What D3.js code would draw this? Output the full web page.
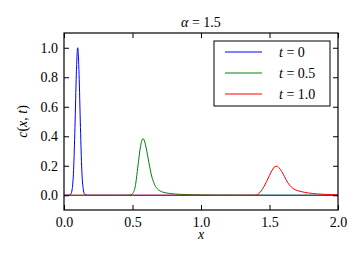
<!DOCTYPE html>
<html>
<head>
<meta charset="utf-8">
<script src="https://cdn.jsdelivr.net/npm/d3@7"></script>
<style>
  body { margin: 0; background: #fff; }
  .axis path { display: none; }
  .axis line { stroke: #000; stroke-width: 1; }
</style>
</head>
<body>
<svg width="364" height="256" style="font-family: 'Liberation Serif', serif; font-size: 14px;"></svg>
<script>
// series
const xBlue = [0, 0.03, 0.05, 0.06, 0.07, 0.08, 0.09, 0.1, 0.11, 0.12, 0.13, 0.14, 0.15, 0.17, 2.0];
const yBlue = [0, 0, 0.008, 0.044, 0.17, 0.46, 0.82, 1.0, 0.82, 0.46, 0.17, 0.044, 0.008, 0, 0];

const xGreen = [0, 0.45, 0.48, 0.5, 0.52, 0.54, 0.555, 0.57, 0.578, 0.59, 0.6, 0.62, 0.64, 0.66, 0.68, 0.7, 0.74, 0.78, 0.85, 0.95, 1.1, 1.4, 2.0];
const yGreen = [0, 0, 0.001, 0.01, 0.06, 0.2, 0.31, 0.375, 0.384, 0.36, 0.32, 0.22, 0.13, 0.075, 0.045, 0.03, 0.017, 0.011, 0.006, 0.003, 0.001, 0.0003, 0];

const xRed = [0, 1.35, 1.4, 1.42, 1.44, 1.46, 1.48, 1.5, 1.52, 1.54, 1.555, 1.57, 1.59, 1.61, 1.63, 1.65, 1.67, 1.7, 1.73, 1.78, 1.85, 1.92, 2.0];
const yRed = [0, 0, 0.001, 0.01, 0.03, 0.06, 0.095, 0.135, 0.17, 0.195, 0.197, 0.186, 0.16, 0.125, 0.09, 0.065, 0.047, 0.033, 0.025, 0.016, 0.009, 0.005, 0.003];

const xTicks = [0, 0.5, 1.0, 1.5, 2.0];
const yTicks = [0, 0.2, 0.4, 0.6, 0.8, 1.0];
const legendLabels = ["0", "0.5", "1.0"];
const colors = ["#0000ff", "#008000", "#ff0000"];

const svg = d3.select("svg");
const margin = { top: 33, right: 26, bottom: 46, left: 64 };
const width = +svg.attr("width");
const height = +svg.attr("height");
const innerWidth = width - margin.left - margin.right;
const innerHeight = height - margin.top - margin.bottom;

const xScale = d3.scaleLinear().domain([0, 2]).range([0, innerWidth]);
const yScale = d3.scaleLinear().domain([-0.1, 1.1]).range([innerHeight, 0]);

const g = svg.append("g").attr("transform", `translate(${margin.left}, ${margin.top})`);

const series = [
  { x: xBlue, y: yBlue },
  { x: xGreen, y: yGreen },
  { x: xRed, y: yRed }
];

const line = d3.line()
  .x((d) => xScale(d[0]))
  .y((d) => yScale(d[1]))
  .curve(d3.curveMonotoneX);

series.forEach((s, i) => {
  g.append("path")
    .datum(d3.zip(s.x, s.y))
    .attr("d", line)
    .attr("fill", "none")
    .attr("stroke", colors[i])
    .attr("stroke-width", 1);
});

// axes, ticks inward on all four sides
const fmt = d3.format(".1f");
const axes = [
  g.append("g").attr("class", "axis")
    .attr("transform", `translate(0, ${innerHeight})`)
    .call(d3.axisBottom(xScale).tickValues(xTicks).tickSizeInner(-5).tickSizeOuter(0).tickPadding(7).tickFormat(fmt)),
  g.append("g").attr("class", "axis")
    .call(d3.axisTop(xScale).tickValues(xTicks).tickSizeInner(-5).tickSizeOuter(0).tickFormat("")),
  g.append("g").attr("class", "axis")
    .call(d3.axisLeft(yScale).tickValues(yTicks).tickSizeInner(-5).tickSizeOuter(0).tickPadding(6).tickFormat(fmt)),
  g.append("g").attr("class", "axis")
    .attr("transform", `translate(${innerWidth}, 0)`)
    .call(d3.axisRight(yScale).tickValues(yTicks).tickSizeInner(-5).tickSizeOuter(0).tickFormat(""))
];
// drop d3's sans-serif default and the empty labels
axes.forEach((a) => {
  a.attr("font-family", null).attr("font-size", null);
  a.selectAll("text").filter(function () { return this.textContent === ""; }).remove();
});

g.append("rect")
  .attr("width", innerWidth)
  .attr("height", innerHeight)
  .attr("fill", "none")
  .attr("stroke", "#000")
  .attr("stroke-width", 1.2);

// title and labels
svg.append("text")
  .attr("x", margin.left + innerWidth / 2)
  .attr("y", 27)
  .attr("text-anchor", "middle")
  .html('<tspan font-style="italic">\u03b1</tspan> = 1.5');

svg.append("text")
  .attr("x", margin.left + innerWidth / 2)
  .attr("y", 239)
  .attr("text-anchor", "middle")
  .attr("font-style", "italic")
  .text("x");

svg.append("text")
  .attr("transform", `translate(27, ${margin.top + innerHeight / 2}) rotate(-90)`)
  .attr("text-anchor", "middle")
  .html('<tspan font-style="italic">c</tspan>(<tspan font-style="italic">x</tspan>, <tspan font-style="italic">t</tspan>)');

// legend
const legend = svg.append("g").attr("transform", "translate(214, 41)");
legend.append("rect")
  .attr("width", 116)
  .attr("height", 65)
  .attr("fill", "#fff")
  .attr("stroke", "#000")
  .attr("stroke-width", 1);

legendLabels.forEach((lab, i) => {
  const y = 11 + i * 21;
  legend.append("line")
    .attr("x1", 11).attr("x2", 48)
    .attr("y1", y).attr("y2", y)
    .attr("stroke", colors[i])
    .attr("stroke-width", 1);
  legend.append("text")
    .attr("x", 65)
    .attr("y", y + 5)
    .html('<tspan font-style="italic">t</tspan> = ' + lab);
});

svg.selectAll("text")
  .style("font-family", "'Liberation Serif', serif", "important")
  .style("font-size", "14px")
  .attr("fill", "#000");
</script>
</body>
</html>
